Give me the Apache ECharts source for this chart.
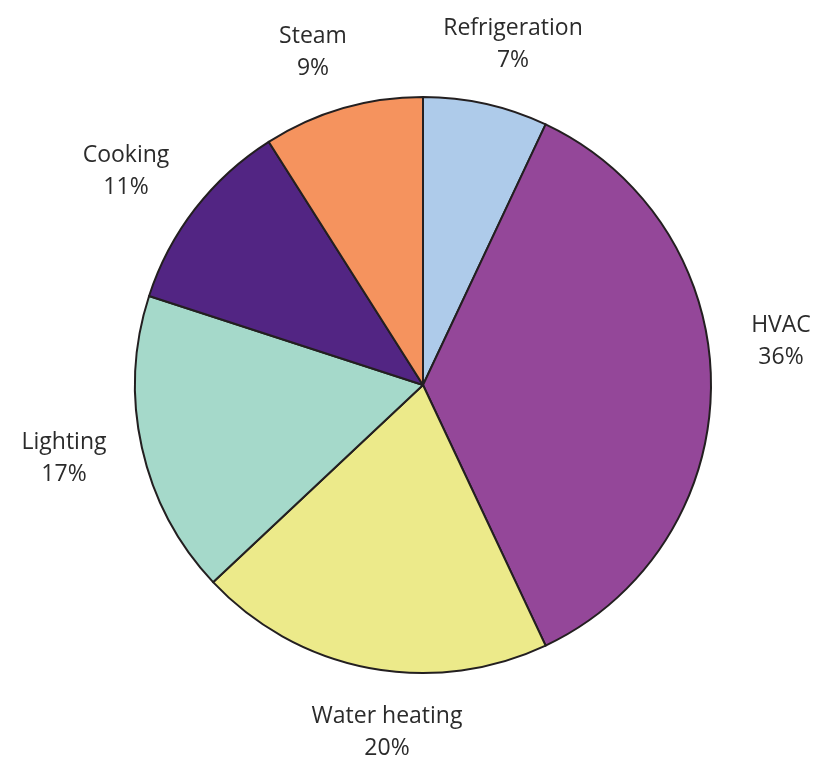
<!DOCTYPE html>
<html>
<head>
<meta charset="utf-8">
<script src="https://cdn.jsdelivr.net/npm/echarts@6/dist/echarts.min.js"></script>
<style>
	html, body { margin: 0; padding: 0; background: #fff; }
	#main { width: 831px; height: 760px; }
</style>
</head>
<body>
<div id="main"></div>
<script>
	var categories = [ 'Refrigeration', 'HVAC', 'Water heating', 'Lighting', 'Cooking', 'Steam' ];
	var shares = [ 7, 36, 20, 17, 11, 9 ];
	var colors = [ '#aecbea', '#944799', '#ecea8a', '#a5d9ca', '#522583', '#f5935e' ];

	// label centres (px)
	var labelPos = [ [ 513, 44 ], [ 781, 341 ], [ 387, 732 ], [ 64, 458 ], [ 126, 171 ], [ 313, 52 ] ];

	var myChart = echarts.init(document.getElementById('main'));

	var pieData = categories.map(function(name, i) {
		return {
			name : name,
			value : shares[i],
			itemStyle : {
				color : colors[i]
			}
		};
	});

	var option = {
		backgroundColor : '#fff',
		animation : false,
		series : [ {
			type : 'pie',
			center : [ 423, 385 ],
			radius : 288,
			startAngle : 90,
			clockwise : true,
			data : pieData,
			itemStyle : {
				borderColor : '#231f20',
				borderWidth : 2
			},
			label : {
				show : true,
				position : 'outside',
				formatter : '{b}\n{c}%',
				fontFamily : 'Open Sans',
				fontSize : 23,
				lineHeight : 32,
				color : '#2b2b2b',
				overflow : 'none'
			},
			labelLine : {
				show : false
			},
			labelLayout : function(params) {
				var p = labelPos[params.dataIndex];
				return {
					x : p[0],
					y : p[1],
					align : 'center',
					verticalAlign : 'middle'
				};
			},
			emphasis : {
				disabled : true
			}
		} ]
	};

	myChart.setOption(option);
</script>
</body>
</html>
